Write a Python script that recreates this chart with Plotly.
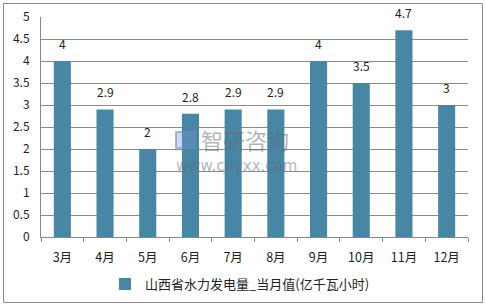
import plotly.graph_objects as go

categories = ["3月", "4月", "5月", "6月", "7月", "8月", "9月", "10月", "11月", "12月"]
values = [4, 2.9, 2, 2.8, 2.9, 2.9, 4, 3.5, 4.7, 3]
series_name = "山西省水力发电量_当月值(亿千瓦小时)"
y_ticks = [0, 0.5, 1, 1.5, 2, 2.5, 3, 3.5, 4, 4.5, 5]
y_tick_text = ["0", "0.5", "1", "1.5", "2", "2.5", "3", "3.5", "4", "4.5", "5"]

FONT = "Noto Sans CJK SC, DejaVu Sans, sans-serif"

fig = go.Figure()
fig.add_trace(go.Bar(
    x=categories, y=values, name=series_name,
    marker=dict(color="#4787a3", line=dict(width=0)),
))

W, H = 486, 306
ml, mr, mt, mb = 41, 18, 17, 69
pw, ph = W - ml - mr, H - mt - mb

def px2paper_x(px):
    return (px - ml) / pw

def px2paper_y(py):
    return (H - mb - py) / ph

annotations = [
    dict(x=c, y=v, text=str(v), showarrow=False, yanchor="bottom", yshift=7,
         font=dict(size=12, color="#222222", family=FONT))
    for c, v in zip(categories, values)
]
annotations += [
    dict(text="智研咨询", xref="paper", yref="paper",
         x=px2paper_x(199), y=px2paper_y(139), xanchor="left", yanchor="middle",
         showarrow=False, font=dict(size=22, color="rgba(95,105,120,0.5)", family=FONT)),
    dict(text="www.chyxx.com", xref="paper", yref="paper",
         x=px2paper_x(174), y=px2paper_y(166), xanchor="left", yanchor="middle",
         showarrow=False, font=dict(size=15, color="rgba(95,105,120,0.5)", family="DejaVu Sans")),
]

fig.update_layout(
    width=W, height=H,
    margin=dict(l=ml, r=mr, t=mt, b=mb, autoexpand=False),
    paper_bgcolor="white", plot_bgcolor="white",
    font=dict(family=FONT, size=12, color="#222222"),
    bargap=0.6,
    showlegend=True,
    legend=dict(orientation="h", x=px2paper_x(240), xanchor="center",
                y=px2paper_y(284), yanchor="middle",
                font=dict(size=13, family=FONT, color="#222222"),
                itemwidth=30),
    xaxis=dict(showline=True, linecolor="#888888", linewidth=1,
               ticks="outside", ticklen=4, tickcolor="#888888", automargin=False,
               tickson="boundaries", showgrid=False, ticklabelstandoff=9,
               tickfont=dict(size=12.5, family=FONT)),
    yaxis=dict(range=[0, 5], tickvals=y_ticks, ticktext=y_tick_text,
               showline=True, linecolor="#888888", linewidth=1, automargin=False,
               showgrid=True, gridcolor="#8a8a8a", gridwidth=1,
               zeroline=False, ticks="", ticklabelstandoff=8,
               tickfont=dict(size=12, family=FONT)),
    shapes=[
        dict(type="rect", xref="paper", yref="paper",
             x0=px2paper_x(3.5), x1=px2paper_x(482.5),
             y0=px2paper_y(302.5), y1=px2paper_y(3.5),
             line=dict(color="#8a8a8a", width=1), layer="below"),
        dict(type="rect", xref="paper", yref="paper",
             x0=px2paper_x(176), x1=px2paper_x(195),
             y0=px2paper_y(148), y1=px2paper_y(132),
             line=dict(color="rgba(110,140,200,0.6)", width=2),
             fillcolor="rgba(120,150,210,0.35)"),
    ],
    annotations=annotations,
)

fig.write_html("out.html")
